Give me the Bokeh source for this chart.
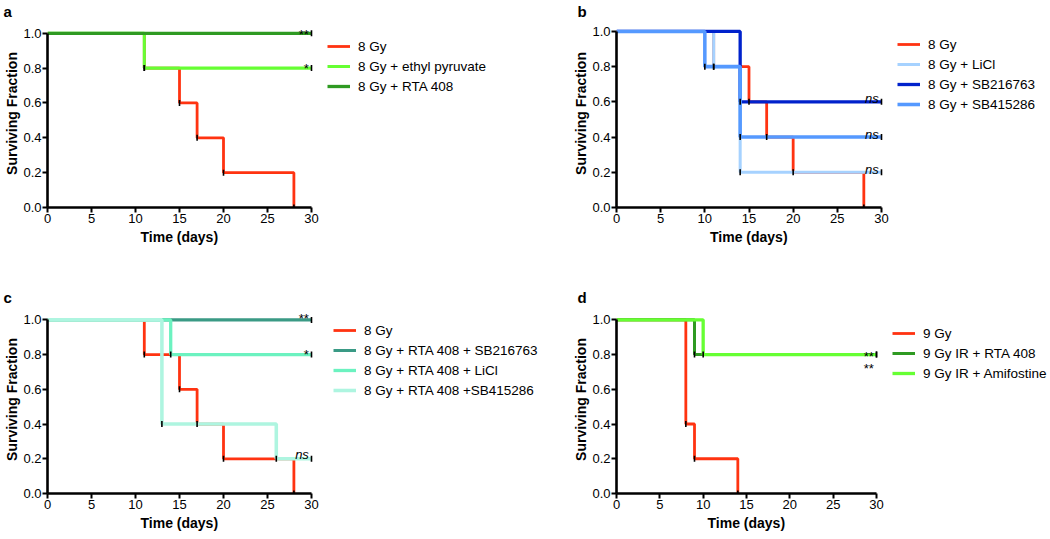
import numpy as np
from bokeh.plotting import figure
from bokeh.layouts import column, row
from bokeh.models import (Legend, LegendItem, Label, FixedTicker, Range1d,
                          NumeralTickFormatter, Title)
from bokeh.embed import file_html
from bokeh.resources import INLINE

# ---------------- data ----------------
X_TICKS = [0, 5, 10, 15, 20, 25, 30]
Y_TICKS = [0.0, 0.2, 0.4, 0.6, 0.8, 1.0]
X_LABEL = "Time (days)"
Y_LABEL = "Surviving Fraction"

# panel a
A_NAMES = ["8 Gy", "8 Gy + ethyl pyruvate", "8 Gy + RTA 408"]
A_TIMES = [[0, 11, 15, 17, 20, 28], [0, 11, 30], [0, 30]]
A_SURV = [[1.0, 0.8, 0.6, 0.4, 0.2, 0.0], [1.0, 0.8, 0.8], [1.0, 1.0]]
A_COLORS = ["#FF3311", "#66FF33", "#2F9A22"]
A_SIG = ["**", "*"]
A_SIG_Y = [1.0, 0.8]

# panel b
B_NAMES = ["8 Gy", "8 Gy + LiCl", "8 Gy + SB216763", "8 Gy + SB415286"]
B_TIMES = [[0, 11, 15, 17, 20, 28], [0, 11, 14, 30], [0, 14, 30], [0, 10, 14, 30]]
B_SURV = [[1.0, 0.8, 0.6, 0.4, 0.2, 0.0], [1.0, 0.8, 0.2, 0.2], [1.0, 0.6, 0.6],
          [1.0, 0.8, 0.4, 0.4]]
B_COLORS = ["#FF3311", "#A6D2FF", "#0022CC", "#5599FF"]
B_SIG = ["ns", "ns", "ns"]
B_SIG_Y = [0.6, 0.4, 0.2]

# panel c
C_NAMES = ["8 Gy", "8 Gy + RTA 408 + SB216763", "8 Gy + RTA 408 + LiCl",
           "8 Gy + RTA 408 +SB415286"]
C_TIMES = [[0, 11, 15, 17, 20, 28], [0, 30], [0, 14, 30], [0, 13, 26, 30]]
C_SURV = [[1.0, 0.8, 0.6, 0.4, 0.2, 0.0], [1.0, 1.0], [1.0, 0.8, 0.8],
          [1.0, 0.4, 0.2, 0.2]]
C_COLORS = ["#FF3311", "#3A9A85", "#6CF2C0", "#AEF5E0"]
C_SIG = ["**", "*", "ns"]
C_SIG_Y = [1.0, 0.8, 0.2]

# panel d
D_NAMES = ["9 Gy", "9 Gy IR + RTA 408", "9 Gy IR + Amifostine"]
D_TIMES = [[0, 8, 9, 14], [0, 9, 30], [0, 10, 30]]
D_SURV = [[1.0, 0.4, 0.2, 0.0], [1.0, 0.8, 0.8], [1.0, 0.8, 0.8]]
D_COLORS = ["#FF3311", "#2F9A22", "#66FF33"]
D_SIG = ["**", "**"]
D_SIG_Y = [0.8, 0.8]

FONT = "Liberation Sans"
XLABEL_HALF_W = 39  # half width (px) of the bold 14px x-axis label


def make_panel(letter, names, times, surv, colors, sig, sig_y, sig_off,
               width, height, left, top, bottom, x30_px, y1_px,
               leg_xy, letter_off):
    # frame spans from `left` to the right edge of the figure (room for legend);
    # x=30 lands at x30_px, y=1.0 lands at y1_px (figure pixels)
    frame_w = width - left
    unit = (x30_px - left) / X_TICKS[-1]
    x_end = frame_w / unit
    frame_bottom_px = height - bottom
    y_end = 1.0 + (y1_px - top) / (frame_bottom_px - y1_px)

    p = figure(width=width, height=height, output_backend="svg",
               toolbar_location=None, x_range=Range1d(0, x_end),
               y_range=Range1d(0, y_end), min_border_left=left,
               min_border_right=0, min_border_top=top, min_border_bottom=bottom,
               title=letter)
    p.outline_line_color = None
    p.grid.visible = False
    p.background_fill_color = "white"
    p.border_fill_color = "white"

    p.title.align = "left"
    p.title.offset = letter_off
    p.title.standoff = 0
    p.title.text_font = FONT
    p.title.text_font_size = "15px"
    p.title.text_font_style = "bold"
    p.title.text_color = "black"

    for ax in (p.xaxis[0], p.yaxis[0]):
        ax.axis_line_width = 2.6
        ax.axis_line_color = "black"
        ax.major_tick_line_width = 2
        ax.major_tick_line_color = "black"
        ax.major_tick_out = 5
        ax.major_tick_in = 0
        ax.minor_tick_line_color = None
        ax.major_label_text_font = FONT
        ax.major_label_text_font_size = "13px"
        ax.major_label_text_color = "black"
        ax.axis_label_text_font = FONT
        ax.axis_label_text_font_size = "14px"
        ax.axis_label_text_font_style = "bold"
        ax.axis_label_text_color = "black"
    p.xaxis[0].ticker = FixedTicker(ticks=X_TICKS)
    p.yaxis[0].ticker = FixedTicker(ticks=Y_TICKS)
    p.yaxis[0].formatter = NumeralTickFormatter(format="0.0")
    p.xaxis[0].bounds = (X_TICKS[0], X_TICKS[-1])
    p.yaxis[0].bounds = (Y_TICKS[0], Y_TICKS[-1])
    p.yaxis[0].axis_label = Y_LABEL
    p.xaxis[0].major_label_standoff = 1
    p.yaxis[0].major_label_standoff = 1
    p.yaxis[0].axis_label_standoff = 0

    # x-axis title, centred under the 0..30 span of the axis
    mid = (X_TICKS[0] + X_TICKS[-1]) / 2
    p.add_layout(Title(text=X_LABEL, align="left",
                       offset=mid * unit - XLABEL_HALF_W, standoff=3,
                       text_font=FONT, text_font_size="14px",
                       text_font_style="bold", text_color="black"), "below")

    # later series are drawn on top and slightly wider so they hide the
    # anti-aliased fringe of the lines underneath
    line_rs = []
    for i, (t, s, c) in enumerate(zip(times, surv, colors)):
        line_rs.append(p.step(t, s, mode="after", line_color=c,
                              line_width=2.8 + 0.25 * i))
    for t, s in zip(times, surv):
        p.scatter(t[1:], s[1:], marker="dash", angle=np.pi / 2,
                  size=6, line_color="black", line_width=1.6)

    items = [LegendItem(label=n, renderers=[lr]) for n, lr in zip(names, line_rs)]
    leg = Legend(items=items, location=leg_xy, glyph_width=23, glyph_height=20,
                 label_height=20, spacing=0, padding=0, margin=0,
                 label_standoff=8, border_line_color=None,
                 background_fill_alpha=0, label_text_font=FONT,
                 label_text_font_size="13.5px", label_text_color="black")
    p.add_layout(leg)

    for txt, yy, off in zip(sig, sig_y, sig_off):
        p.add_layout(Label(x=29.7, y=yy, text=txt, text_align="right",
                           text_baseline="alphabetic", y_offset=off,
                           text_font=FONT, text_font_size="13px",
                           text_font_style="italic" if txt == "ns" else "normal",
                           text_color="black"))
    return p


pa = make_panel("a", A_NAMES, A_TIMES, A_SURV, A_COLORS, A_SIG, A_SIG_Y, [-1, 0],
                566, 266, 47, 19, 56, 311, 33, (280, 111), -44)
pb = make_panel("b", B_NAMES, B_TIMES, B_SURV, B_COLORS, B_SIG, B_SIG_Y, [3, 3, 3],
                484, 266, 50, 18, 59, 315, 30, (281, 93), -39)
pc = make_panel("c", C_NAMES, C_TIMES, C_SURV, C_COLORS, C_SIG, C_SIG_Y, [1, 0, 4],
                566, 273, 47, 35, 46, 311, 49.7, (286, 93), -44)
pd_ = make_panel("d", D_NAMES, D_TIMES, D_SURV, D_COLORS, D_SIG, D_SIG_Y, [-2, -14],
                 484, 273, 50, 39, 46, 310, 53.3, (276, 110), -39)

layout = column(row(pa, pb), row(pc, pd_))
open("out.html", "w").write(file_html(layout, INLINE))
